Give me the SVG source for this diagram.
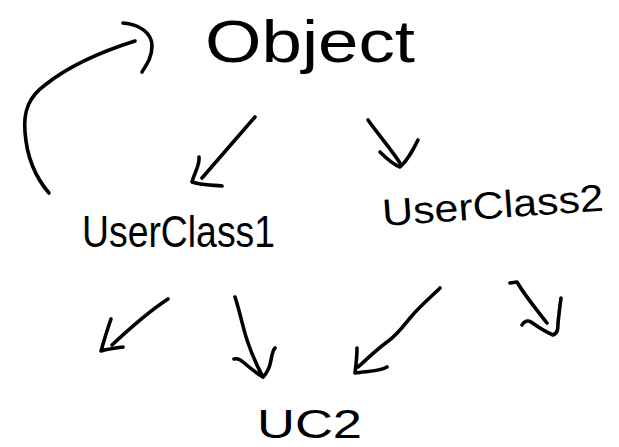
<svg xmlns="http://www.w3.org/2000/svg" width="619" height="447" viewBox="0 0 619 447">
<style>
.bg{fill:#ffffff}
.ink{fill:none;stroke:#000;stroke-width:3.6;stroke-linecap:round;stroke-linejoin:round}
.lbl{font-family:"Liberation Sans","DejaVu Sans",sans-serif;fill:#000}
</style>
<rect class="bg" x="0" y="0" width="619" height="447"/>
<g id="connectors">
  <g id="edge-uc1-object">
    <path class="ink" d="M49,193 C36,178 27,160 25,132 C23,110 30,96 45,85 C70,65 100,52 135,41"/>
    <path class="ink" d="M123,23 C138,24 152,32 152,46 C152,57 147,64 142,72"/>
  </g>
  <g id="edge-object-uc1">
    <path class="ink" d="M255,117 L202,178"/>
    <path class="ink" d="M199,157 C200,166 194,173 192,182 C200,185 212,185 222,186"/>
  </g>
  <g id="edge-object-uc2">
    <path class="ink" d="M368,120 C378,134 390,148 400,163"/>
    <path class="ink" d="M380,152 C386,158 392,164 400,167 C408,160 413,150 418,140"/>
  </g>
  <g id="edge-uc1-left">
    <path class="ink" d="M168,299 C148,312 128,330 112,345"/>
    <path class="ink" d="M111,319 C107,330 104,341 101,351 C108,349 116,348 123,347"/>
  </g>
  <g id="edge-uc1-ucc2">
    <path class="ink" d="M235,297 C240,312 243,328 247,340 C252,355 257,366 263,377"/>
    <path class="ink" d="M234,359 C238,358 241,360 243,362 C250,368 256,373 263,377 C268,372 270,366 271,360 C272,354 273,350 275,348"/>
  </g>
  <g id="edge-uc2-ucc2">
    <path class="ink" d="M440,288 C432,296 420,306 410,318 C402,328 396,336 387,342 C376,350 366,360 358,367"/>
    <path class="ink" d="M357,348 C357,357 356,365 355,373 C366,371 378,372 387,367"/>
  </g>
  <g id="edge-uc2-right">
    <path class="ink" d="M510,283 L517,282 C525,296 537,310 547,323"/>
    <path class="ink" d="M522,325 C524,321 528,320 531,322 C538,327 546,332 553,335 C558,333 558,328 558,323 C559,313 560,305 561,298"/>
  </g>
</g>
<g id="node-object">
  <text class="lbl" x="205" y="62" font-size="60" textLength="210" lengthAdjust="spacingAndGlyphs">Object</text>
</g>
<g id="node-userclass1">
  <text class="lbl" x="82" y="247" font-size="44" textLength="193" lengthAdjust="spacingAndGlyphs">UserClass1</text>
</g>
<g id="node-userclass2">
  <text class="lbl" x="383" y="226" font-size="38" textLength="222" lengthAdjust="spacingAndGlyphs" transform="rotate(-4 383 226)">UserClass2</text>
</g>
<g id="node-uc2">
  <text class="lbl" x="257" y="438" font-size="40" textLength="105" lengthAdjust="spacingAndGlyphs">UC2</text>
</g>
</svg>
